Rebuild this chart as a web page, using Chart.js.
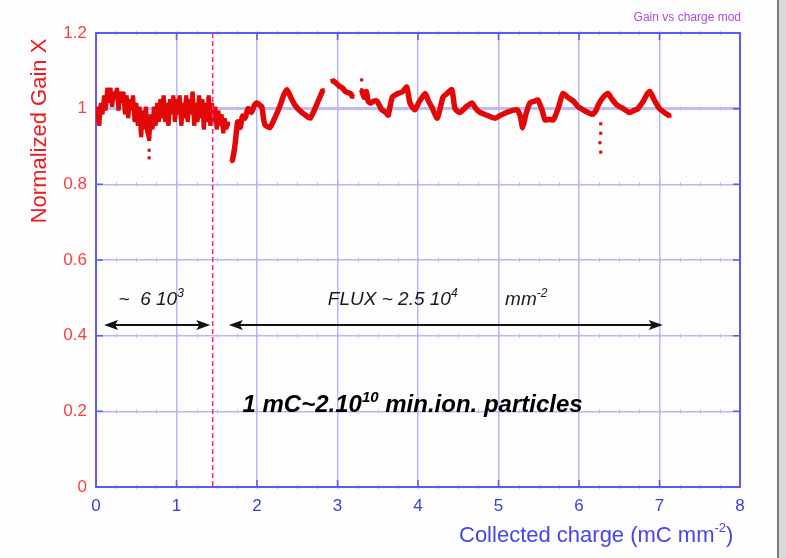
<!DOCTYPE html>
<html>
<head>
<meta charset="utf-8">
<title>Gain vs charge</title>
<script src="https://cdn.jsdelivr.net/npm/chart.js@4.4.1/dist/chart.umd.min.js"></script>
<style>
    html, body { margin: 0; padding: 0; background: #fdfdfe; }
    #wrap { position: relative; width: 786px; height: 558px; }
</style>
</head>
<body>
<div id="wrap"><canvas id="gainChart" width="786" height="558"></canvas></div>
<script>
// Gain vs collected charge - normalized gain of module X

const FONT = "'Liberation Sans', Arial, sans-serif";

// axis ticks
const chargeTicks = [0, 1, 2, 3, 4, 5, 6, 7, 8];
const gainTicks = [0, 0.2, 0.4, 0.6, 0.8, 1, 1.2];
const gainTickLabels = ['0', '0.2', '0.4', '0.6', '0.8', '1', '1.2'];

// first irradiation period (noisy readout), x in mC/mm2
const earlyCharge = [
    0.00, 0.02, 0.04, 0.06, 0.08, 0.10, 0.12, 0.14, 0.16, 0.18,
    0.20, 0.22, 0.24, 0.26, 0.28, 0.30, 0.32, 0.34, 0.36, 0.38,
    0.40, 0.42, 0.44, 0.46, 0.48, 0.50, 0.52, 0.54, 0.56, 0.58,
    0.60, 0.62, 0.64, 0.66, 0.68, 0.70, 0.72, 0.74, 0.76, 0.78,
    0.80, 0.82, 0.84, 0.86, 0.88, 0.90, 0.92, 0.94, 0.96, 0.98,
    1.00, 1.02, 1.04, 1.06, 1.08, 1.10, 1.12, 1.14, 1.16, 1.18,
    1.20, 1.22, 1.24, 1.26, 1.28, 1.30, 1.32, 1.34, 1.36, 1.38,
    1.40, 1.42, 1.44, 1.46, 1.48, 1.50, 1.52, 1.54, 1.56, 1.58,
    1.60, 1.62, 1.64
];
const earlyGain = [
    0.97, 1.00, 0.96, 1.01, 0.99, 1.03, 1.00, 1.05, 1.02, 1.05,
    1.01, 1.04, 1.03, 1.05, 1.00, 1.04, 1.02, 1.04, 0.99, 1.03,
    0.98, 1.02, 1.00, 1.03, 0.97, 1.01, 0.96, 1.00, 0.93, 0.99,
    0.95, 1.00, 0.94, 0.92, 0.98, 0.95, 1.00, 0.96, 1.01, 0.97,
    1.02, 0.98, 1.03, 0.97, 1.01, 0.96, 1.02, 0.99, 1.03, 0.97,
    1.02, 0.99, 1.03, 0.96, 1.01, 0.98, 1.03, 0.97, 1.02, 0.99,
    1.04, 0.96, 1.01, 0.97, 1.03, 0.98, 1.02, 0.95, 1.01, 0.97,
    1.03, 0.96, 1.01, 0.97, 1.00, 0.95, 0.99, 0.96, 0.98, 0.94,
    0.97, 0.95, 0.96
];

// second period, null marks a break in the readout
const lateCharge = [
    1.69, 1.71, 1.73, 1.76, 1.79, 1.82, 1.85, 1.89, 1.93, 1.97,
    2.00, 2.03, 2.06, 2.08, 2.10, 2.16, 2.22, 2.29, 2.33, 2.37,
    2.42, 2.47, 2.53, 2.60, 2.66, 2.72, 2.77, 2.82, 2.87,
    2.93, 2.97, 3.02, 3.06, 3.10, 3.16, 3.19, 3.25,
    3.30, 3.33, 3.36, 3.38, 3.41, 3.45, 3.49, 3.55, 3.60, 3.63,
    3.68, 3.75, 3.81, 3.86, 3.90, 3.96, 4.02, 4.09, 4.13, 4.17,
    4.24, 4.31, 4.36, 4.42, 4.46, 4.52, 4.60, 4.67, 4.72, 4.77,
    4.85, 4.96, 5.03, 5.10, 5.17, 5.23, 5.27, 5.30, 5.34, 5.39,
    5.45, 5.49, 5.54, 5.58, 5.63, 5.68, 5.74, 5.80, 5.86, 5.93,
    5.99, 6.05, 6.11, 6.17, 6.21, 6.24, 6.30, 6.36, 6.41, 6.47,
    6.55, 6.63, 6.68, 6.73, 6.80, 6.85, 6.88, 6.93, 7.00, 7.06,
    7.13
];
const lateGain = [
    0.86, 0.88, 0.91, 0.965, 0.95, 0.98, 0.975, 1.00, 0.99, 1.01,
    1.015, 1.01, 1.005, 0.975, 0.957, 0.95, 0.975, 1.01, 1.035, 1.05,
    1.03, 1.01, 0.995, 0.983, 0.975, 1.00, 1.025, 1.05, null,
    1.075, 1.07, 1.06, 1.055, 1.045, 1.04, 1.03, null,
    1.05, 1.03, 1.045, 1.02, 1.015, 1.02, 1.02, 0.997, 0.99, 0.983,
    1.03, 1.04, 1.045, 1.057, 1.015, 0.997, 1.02, 1.04, 1.02, 1.005,
    0.975, 1.03, 1.04, 1.05, 1.00, 0.99, 1.005, 1.015, 1.00, 0.99,
    0.983, 0.975, 0.983, 0.99, 0.995, 0.997, 0.98, 0.95, 0.985, 1.015,
    1.02, 1.023, 0.997, 0.97, 0.972, 0.97, 1.00, 1.04, 1.03, 1.02,
    1.005, 0.997, 0.99, 0.985, 0.995, 1.01, 1.03, 1.04, 1.025, 1.01,
    1.00, 0.99, 0.995, 1.00, 1.02, 1.04, 1.045, 1.025, 1.00, 0.99,
    0.98
];

// isolated readings
const strayCharge = [0.66, 0.66, 3.30, 6.26, 6.27, 6.27, 6.27];
const strayGain = [0.89, 0.87, 1.076, 0.91, 0.96, 0.935, 0.885];

// end of the first period
const periodBoundary = 1.45;

function toPoints(xs, ys) {
    return xs.map((x, i) => ({ x: x, y: ys[i] }));
}

const RED = '#e30808';
const GRID = '#b8b8f5';
const FRAME = '#5b5bf2';

// frame, minor ticks, dashed boundary and the text notes
const notesPlugin = {
    id: 'notes',
    beforeDatasetsDraw(chart) {
        const ctx = chart.ctx;
        const xs = chart.scales.x, ys = chart.scales.y;
        const a = chart.chartArea;
        ctx.save();
        // minor ticks along horizontal grid lines
        ctx.strokeStyle = GRID;
        ctx.lineWidth = 1;
        gainTicks.forEach(g => {
            const py = ys.getPixelForValue(g);
            for (let c = 0.25; c < 8; c += 0.25) {
                const px = Math.round(xs.getPixelForValue(c)) + 0.5;
                ctx.beginPath();
                ctx.moveTo(px, py - 2);
                ctx.lineTo(px, py + 2);
                ctx.stroke();
            }
        });
        // inward major ticks
        ctx.strokeStyle = FRAME;
        ctx.lineWidth = 1.5;
        chargeTicks.forEach(c => {
            const px = xs.getPixelForValue(c);
            ctx.beginPath();
            ctx.moveTo(px, a.bottom); ctx.lineTo(px, a.bottom - 7);
            ctx.moveTo(px, a.top); ctx.lineTo(px, a.top + 7);
            ctx.stroke();
        });
        gainTicks.forEach(g => {
            const py = ys.getPixelForValue(g);
            ctx.beginPath();
            ctx.moveTo(a.left, py); ctx.lineTo(a.left + 7, py);
            ctx.moveTo(a.right, py); ctx.lineTo(a.right - 7, py);
            ctx.stroke();
        });
        // frame
        ctx.lineWidth = 2;
        ctx.strokeRect(a.left, a.top, a.right - a.left, a.bottom - a.top);
        ctx.restore();
    },
    afterDatasetsDraw(chart) {
        const ctx = chart.ctx;
        const xs = chart.scales.x, ys = chart.scales.y;
        const a = chart.chartArea;
        ctx.save();

        // dashed boundary between the two periods
        const bx = xs.getPixelForValue(periodBoundary);
        ctx.strokeStyle = '#ff2a8a';
        ctx.lineWidth = 1.6;
        ctx.setLineDash([5, 3]);
        ctx.beginPath();
        ctx.moveTo(bx, a.top);
        ctx.lineTo(bx, a.bottom);
        ctx.stroke();
        ctx.setLineDash([]);

        // double arrows
        const arrowY = ys.getPixelForValue(0.428);
        drawDoubleArrow(ctx, xs.getPixelForValue(0.10), xs.getPixelForValue(1.42), arrowY);
        drawDoubleArrow(ctx, xs.getPixelForValue(1.65), xs.getPixelForValue(7.04), arrowY);

        ctx.fillStyle = '#1a1a1a';
        ctx.textBaseline = 'alphabetic';
        ctx.textAlign = 'left';
        const noteY = ys.getPixelForValue(0.48);
        drawSup(ctx, xs.getPixelForValue(0.28), noteY,
            [['~  6 10', 'italic 19px ' + FONT, 0], ['3', 'italic 12px ' + FONT, -8]]);
        drawSup(ctx, xs.getPixelForValue(2.88), noteY,
            [['FLUX ~ 2.5 10', 'italic 19px ' + FONT, 0], ['4', 'italic 12px ' + FONT, -8],
             ['         mm', 'italic 19px ' + FONT, 0], ['-2', 'italic 12px ' + FONT, -8]]);

        ctx.fillStyle = '#000';
        drawSup(ctx, xs.getPixelForValue(1.82), ys.getPixelForValue(0.198),
            [['1 mC~2.10', 'italic bold 24px ' + FONT, 0], ['10', 'italic bold 15px ' + FONT, -10],
             [' min.ion. particles', 'italic bold 24px ' + FONT, 0]]);

        // axis titles
        ctx.fillStyle = '#4646e6';
        drawSup(ctx, 459, 542,
            [['Collected charge (mC mm', '22px ' + FONT, 0], ['-2', '13px ' + FONT, -10],
             [')', '22px ' + FONT, 0]]);

        ctx.save();
        ctx.translate(46, 131);
        ctx.rotate(-Math.PI / 2);
        ctx.fillStyle = '#ea1c1c';
        ctx.font = '22px ' + FONT;
        ctx.textAlign = 'center';
        ctx.fillText('Normalized Gain X', 0, 0);
        ctx.restore();

        ctx.fillStyle = '#b04ae6';
        ctx.font = '12px ' + FONT;
        ctx.textAlign = 'right';
        ctx.fillText('Gain vs charge mod', 741, 21);

        // window edge on the right
        ctx.fillStyle = '#d9d9d9';
        ctx.fillRect(778, 0, 8, 558);
        ctx.fillStyle = '#7a7a7a';
        ctx.fillRect(777, 0, 2, 558);
        ctx.restore();
    }
};

function drawSup(ctx, x, y, parts) {
    let cx = x;
    parts.forEach(p => {
        ctx.font = p[1];
        ctx.fillText(p[0], cx, y + p[2]);
        cx += ctx.measureText(p[0]).width;
    });
}

function drawDoubleArrow(ctx, x1, x2, y) {
    const head = 14, half = 5;
    ctx.strokeStyle = '#111';
    ctx.fillStyle = '#111';
    ctx.lineWidth = 2;
    ctx.beginPath();
    ctx.moveTo(x1 + 4, y);
    ctx.lineTo(x2 - 4, y);
    ctx.stroke();
    ctx.beginPath();
    ctx.moveTo(x1, y);
    ctx.lineTo(x1 + head, y - half);
    ctx.lineTo(x1 + head - 3, y);
    ctx.lineTo(x1 + head, y + half);
    ctx.closePath();
    ctx.fill();
    ctx.beginPath();
    ctx.moveTo(x2, y);
    ctx.lineTo(x2 - head, y - half);
    ctx.lineTo(x2 - head + 3, y);
    ctx.lineTo(x2 - head, y + half);
    ctx.closePath();
    ctx.fill();
}

document.addEventListener('DOMContentLoaded', function() {
    const ctx = document.getElementById('gainChart').getContext('2d');

    new Chart(ctx, {
        type: 'line',
        data: {
            datasets: [
                {
                    label: 'early',
                    data: toPoints(earlyCharge, earlyGain),
                    borderColor: RED,
                    backgroundColor: RED,
                    borderWidth: 4.5,
                    borderJoinStyle: 'bevel',
                    pointStyle: 'rect',
                    pointRadius: 3,
                    pointBorderWidth: 0,
                    tension: 0
                },
                {
                    label: 'late',
                    data: toPoints(lateCharge, lateGain),
                    borderColor: RED,
                    backgroundColor: RED,
                    borderWidth: 5.5,
                    pointStyle: 'rect',
                    pointRadius: 2.2,
                    pointBorderWidth: 0,
                    spanGaps: false,
                    tension: 0.2
                },
                {
                    label: 'stray',
                    type: 'scatter',
                    data: toPoints(strayCharge, strayGain),
                    backgroundColor: RED,
                    pointStyle: 'rect',
                    pointRadius: 2.2,
                    pointBorderWidth: 0
                }
            ]
        },
        options: {
            responsive: false,
            animation: false,
            layout: { padding: { left: 0, top: 33, right: 46, bottom: 0 } },
            plugins: {
                legend: { display: false },
                tooltip: { enabled: false }
            },
            scales: {
                x: {
                    type: 'linear',
                    min: 0,
                    max: 8,
                    afterFit: function(scale) { scale.height = 71; },
                    afterBuildTicks: function(scale) {
                        scale.ticks = chargeTicks.map(v => ({ value: v }));
                    },
                    grid: { color: GRID, lineWidth: 1.5, drawTicks: false },
                    border: { display: false },
                    ticks: {
                        color: '#3c3ce2',
                        padding: 9,
                        font: { family: FONT, size: 17 },
                        callback: v => String(v)
                    }
                },
                y: {
                    min: 0,
                    max: 1.2,
                    afterFit: function(scale) { scale.width = 96; },
                    afterBuildTicks: function(scale) {
                        scale.ticks = gainTicks.map(v => ({ value: v }));
                    },
                    grid: {
                        color: c => c.tick && c.tick.value === 1 ? '#bcbcf6' : GRID,
                        lineWidth: c => c.tick && c.tick.value === 1 ? 3 : 1.5,
                        drawTicks: false
                    },
                    border: { display: false },
                    ticks: {
                        color: '#ff3f3f',
                        padding: 9,
                        font: { family: FONT, size: 17 },
                        callback: function(v) {
                            const i = gainTicks.findIndex(g => Math.abs(g - v) < 1e-6);
                            return i >= 0 ? gainTickLabels[i] : '';
                        }
                    }
                }
            }
        },
        plugins: [notesPlugin]
    });
});
</script>
</body>
</html>
